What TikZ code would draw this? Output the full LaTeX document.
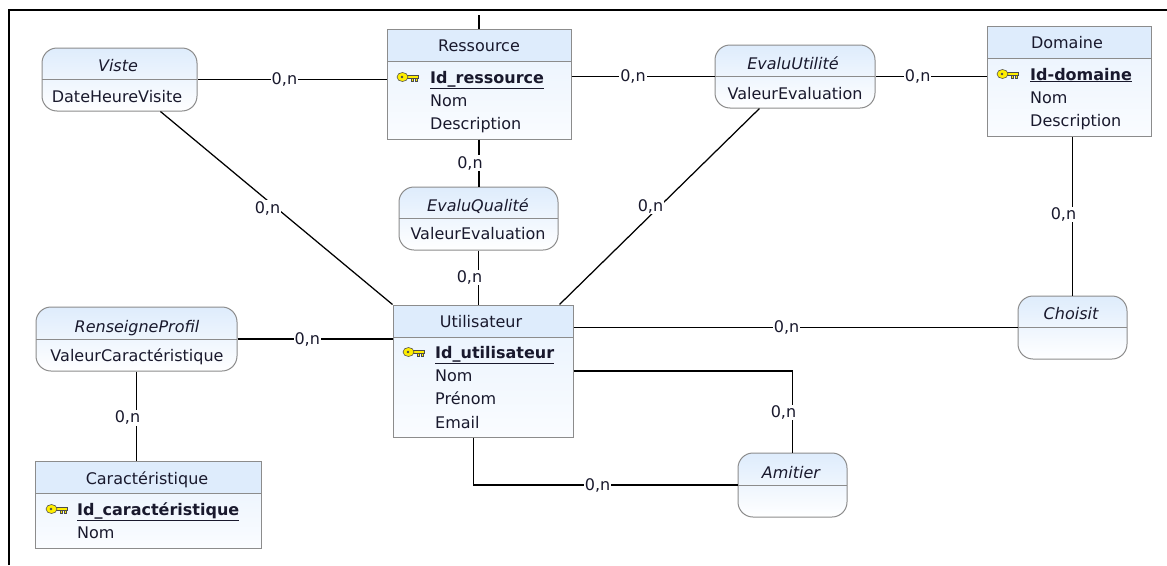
\documentclass[tikz,border=0pt]{standalone}
\usepackage{fontspec}
\setmainfont{DejaVu Sans}
\colorlet{box edge}{black!45}
\definecolor{head fill}{RGB}{222,236,252}
\definecolor{body top}{RGB}{232,242,253}
\definecolor{body bottom}{RGB}{250,252,255}
\definecolor{key fill}{RGB}{255,238,0}
\definecolor{ink}{RGB}{25,25,45}
\newcommand\keyicon[2]{%
  \begin{scope}[shift={(#1,#2)}, line width=0.6pt]
    \filldraw[fill=key fill, draw=black!70] (8,-1.5) rectangle (21,1.5);
    \filldraw[fill=key fill, draw=black!70] (14.5,1.5) rectangle (16.5,4) (18.5,1.5) rectangle (20.5,4);
    \filldraw[fill=key fill, draw=black!70] (5.5,0) ellipse (5.5 and 4.5);
    \fill[black!70] (5,0) circle (1.4);
  \end{scope}}
\tikzset{entity/.style={draw=box edge, line width=1pt, top color=body top, bottom color=body bottom, inner sep=0pt,
		path picture={\fill[head fill] (path picture bounding box.north west) rectangle ([yshift=-32pt]path picture bounding box.north east);
			\draw[box edge, line width=1pt] ([yshift=-32pt]path picture bounding box.north west) -- ([yshift=-32pt]path picture bounding box.north east);}},
	relation/.style={draw=box edge, line width=1pt, rounded corners=15pt, top color=head fill, bottom color=white, inner sep=0pt,
		path picture={\draw[box edge, line width=1pt] (path picture bounding box.west) -- (path picture bounding box.east);}},
	link/.style={draw=black, line width=1.25pt},
	card/.style={fill=white, inner sep=1pt, text=ink},
	vcard/.style={card, xshift=-9pt},
	title/.style={anchor=base, text=ink, inner sep=0pt},
	attr/.style={anchor=base west, text=ink, inner sep=0pt}}

\begin{document}
\begin{tikzpicture}[x=1pt, y=-1pt, font=\fontsize{16}{19}\selectfont]
		\useasboundingbox (0,0) rectangle (1167,565);
		\draw[line width=2pt] (9,565) -- (9,10) -- (1167,10);
		
		% entites
		\node[entity, minimum width=184pt, minimum height=110pt] (ressource) at (479,84) {};
		\node[title] (ressource-t) at (479,51) {Ressource};
		\keyicon{397}{77}
		\node[attr] (ressource-1) at (430,83) {\textbf{\underline{Id\_ressource}}};
		\node[attr] (ressource-2) at (430,106) {Nom};
		\node[attr] (ressource-3) at (430,129) {Description};
		
		\node[entity, minimum width=164pt, minimum height=110pt] (domaine) at (1069,81) {};
		\node[title] (domaine-t) at (1067,48) {Domaine};
		\keyicon{997}{74}
		\node[attr] (domaine-1) at (1030,80) {\textbf{\underline{Id-domaine}}};
		\node[attr] (domaine-2) at (1030,103) {Nom};
		\node[attr] (domaine-3) at (1030,126) {Description};
		
		\node[entity, minimum width=180pt, minimum height=132pt] (utilisateur) at (483,371) {};
		\node[title] (utilisateur-t) at (481,327) {Utilisateur};
		\keyicon{403}{352}
		\node[attr] (utilisateur-1) at (435,358) {\textbf{\underline{Id\_utilisateur}}};
		\node[attr] (utilisateur-2) at (435,381) {Nom};
		\node[attr] (utilisateur-3) at (435,404) {Prénom};
		\node[attr] (utilisateur-4) at (435,428) {Email};
		
		\node[entity, minimum width=226pt, minimum height=87pt] (caract) at (148,504.5) {};
		\node[title] (caract-t) at (147,484) {Caractéristique};
		\keyicon{46}{509}
		\node[attr] (caract-1) at (77,515) {\textbf{\underline{Id\_caractéristique}}};
		\node[attr] (caract-2) at (77,538) {Nom};
		
		% associations
		\node[relation, minimum width=155pt, minimum height=63pt] (viste) at (119.5,79.5) {};
		\node[title] (viste-t) at (118,71) {\itshape Viste};
		\node[title] (viste-a) at (117,102) {DateHeureVisite};
		
		\node[relation, minimum width=160pt, minimum height=63pt] (evaluutilite) at (795,76.5) {};
		\node[title] (evaluutilite-t) at (793,69) {\itshape EvaluUtilité};
		\node[title] (evaluutilite-a) at (795,99) {ValeurEvaluation};
		
		\node[relation, minimum width=159pt, minimum height=63pt] (evaluqualite) at (478.5,218.5) {};
		\node[title] (evaluqualite-t) at (478,211) {\itshape EvaluQualité};
		\node[title] (evaluqualite-a) at (478,239) {ValeurEvaluation};
		
		\node[relation, minimum width=201pt, minimum height=64pt] (renseigne) at (136.5,339) {};
		\node[title] (renseigne-t) at (137,332) {\itshape RenseigneProfil};
		\node[title] (renseigne-a) at (137,361) {ValeurCaractéristique};
		
		\node[relation, minimum width=109pt, minimum height=63pt] (choisit) at (1072.5,327.5) {};
		\node[title] (choisit-t) at (1071,319) {\itshape Choisit};
		
		\node[relation, minimum width=109pt, minimum height=64pt] (amitier) at (792.5,485) {};
		\node[title] (amitier-t) at (791,478) {\itshape Amitier};
		
		% liens
		\coordinate (haut) at (479,15);
		\draw[link] (ressource.north) -- (haut);
		\draw[link] (viste.east) -- node[card, pos=.46] (c1) {0,n} (viste.east -| ressource.west);
		\draw[link] (ressource.east |- evaluutilite.west) -- node[card, pos=.43] (c2) {0,n} (evaluutilite.west);
		\draw[link] (evaluutilite.east) -- node[card, pos=.38] (c3) {0,n} (evaluutilite.east -| domaine.west);
		\draw[link] (choisit.north |- domaine.south) -- node[vcard, pos=.49] (c4) {0,n} (choisit.north);
		\draw[link] (ressource.south) -- node[vcard] (c5) {0,n} (ressource.south |- evaluqualite.north);
		\draw[link] (evaluqualite.south) -- node[vcard] (c6) {0,n} (evaluqualite.south |- utilisateur.north);
		\draw[link] (viste.-38) -- node[vcard, pos=.5] (c7) {0,n} (utilisateur.north west);
		\draw[link] (evaluutilite.-138) -- node[vcard, pos=.5] (c8) {0,n} (utilisateur.41.7);
		\draw[link] (renseigne.east) -- node[card, pos=.45] (c9) {0,n} (renseigne.east -| utilisateur.west);
		\draw[link] (renseigne.south) -- node[vcard, pos=.52] (c10) {0,n} (renseigne.south |- caract.north);
		\draw[link] (choisit.west -| utilisateur.east) -- node[card, pos=.48] (c11) {0,n} (choisit.west);
		\draw[link] (utilisateur.east) -| node[vcard, pos=.755] (c12) {0,n} (amitier.north);
		\draw[link] (utilisateur.-98.6) |- node[card, pos=.735] (c13) {0,n} (amitier.west);
\end{tikzpicture}
\end{document}
